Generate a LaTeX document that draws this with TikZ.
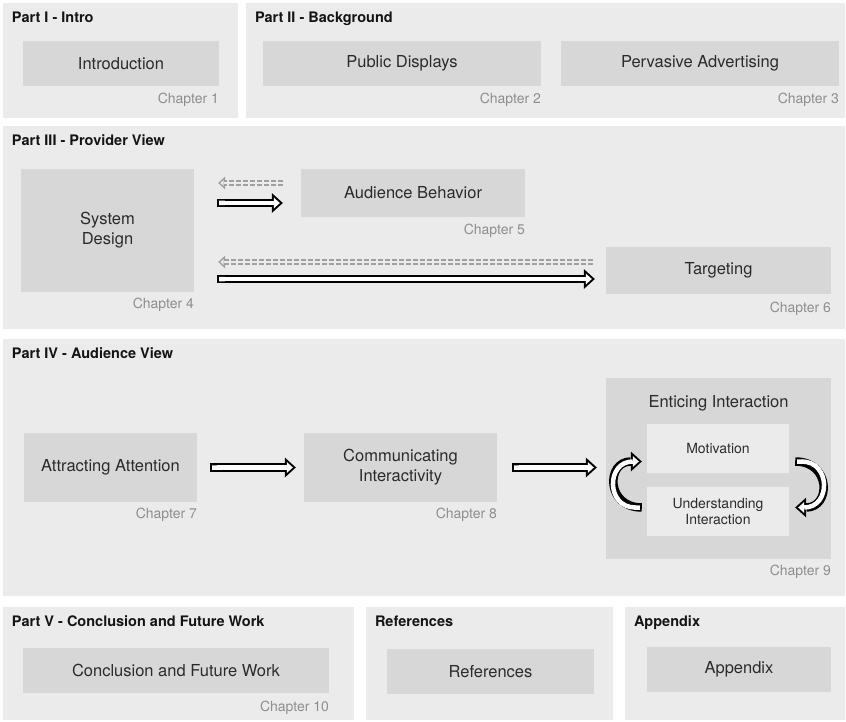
\documentclass[tikz,border=0pt]{standalone}
\usepackage{fontspec}
\setmainfont{TeX Gyre Heros}
\usetikzlibrary{arrows.meta}

\definecolor{panelgray}{HTML}{EBEBEB}
\definecolor{boxgray}{HTML}{D7D7D7}
\definecolor{chapgray}{HTML}{8E8E8E}
\definecolor{labelgray}{HTML}{2B2B2B}
\definecolor{arrgray}{HTML}{A0A0A0}

\begin{document}
\begin{tikzpicture}[x=1pt, y=-1pt,
    panel/.style={fill=panelgray, inner sep=0pt},
    box/.style={fill=boxgray, inner sep=0pt, text=labelgray, align=center, font=\fontsize{16.5}{20}\selectfont},
    subbox/.style={fill=panelgray, inner sep=0pt, text=labelgray, align=center, font=\fontsize{14}{16}\selectfont, minimum width=142pt, minimum height=49pt},
    parttitle/.style={inner sep=0pt, anchor=base west, text=black!92, font=\fontsize{14.5}{17}\selectfont\bfseries},
    chap/.style={inner sep=0pt, anchor=base east, text=chapgray, font=\fontsize{14}{16}\selectfont},
    fwd/.style={draw=white, line width=4.5pt, {Butt Cap[sep=2pt]}-{Triangle[length=6pt, width=10.9pt, line width=0pt, sep=3pt]},
        preaction={draw=black, line width=8.5pt, -{Triangle[length=11pt, width=20pt, line width=0pt]}}},
    back/.style={draw=panelgray, line width=2.6pt, -{Triangle[length=3.3pt, width=6.1pt, line width=0pt, sep=2.2pt]},
        preaction={draw=arrgray, line width=5.6pt, dash pattern=on 5pt off 2pt, -{Triangle[length=7pt, width=13pt, line width=0pt]}}}
]

    \useasboundingbox (0,0) rectangle (846,722);

    \node[panel, minimum width=235pt, minimum height=115pt] (partI) at (120.5,60.5) {};
    \node[panel, minimum width=599pt, minimum height=115pt] (partII) at (545.5,60.5) {};
    \node[panel, minimum width=842pt, minimum height=203pt] (partIII) at (424,227.5) {};
    \node[panel, minimum width=842pt, minimum height=257pt] (partIV) at (424,467.5) {};
    \node[panel, minimum width=351pt, minimum height=113pt] (partV) at (178.5,663.5) {};
    \node[panel, minimum width=247pt, minimum height=113pt] (partref) at (489.5,663.5) {};
    \node[panel, minimum width=220pt, minimum height=113pt] (partapp) at (735,663.5) {};

    \node[parttitle] (titleI) at ([xshift=9pt,yshift=-20pt]partI.north west) {Part I - Intro};
    \node[parttitle] (titleII) at ([xshift=9pt,yshift=-20pt]partII.north west) {Part II - Background};
    \node[parttitle] (titleIII) at ([xshift=9pt,yshift=-20pt]partIII.north west) {Part III - Provider View};
    \node[parttitle] (titleIV) at ([xshift=9pt,yshift=-20pt]partIV.north west) {Part IV - Audience View};
    \node[parttitle] (titleV) at ([xshift=9pt,yshift=-20pt]partV.north west) {Part V - Conclusion and Future Work};
    \node[parttitle] (titleref) at ([xshift=9pt,yshift=-20pt]partref.north west) {References};
    \node[parttitle] (titleapp) at ([xshift=9pt,yshift=-20pt]partapp.north west) {Appendix};

    \node[box, minimum width=196pt, minimum height=45pt] (intro) at (121,63.5) {Introduction};
    \node[box, minimum width=278pt, minimum height=45pt] (pubdisp) at (402,63.5) {Public Displays};
    \node[box, minimum width=278pt, minimum height=45pt] (pervadv) at (700,63.5) {Pervasive Advertising};

    \node[box, minimum width=173pt, minimum height=123pt] (sysdesign) at (107.5,230.5) {System\\Design};
    \node[box, minimum width=224pt, minimum height=48pt] (audbeh) at (413,193) {Audience Behavior};
    \node[box, minimum width=225pt, minimum height=47pt] (target) at (718.5,270.5) {Targeting};

    \node[box, minimum width=173pt, minimum height=69pt] (attract) at (110.5,467.5) {Attracting Attention};
    \node[box, minimum width=193pt, minimum height=69pt] (commint) at (400.5,467.5) {Communicating\\Interactivity};
    \node[box, minimum width=225pt, minimum height=181pt] (entice) at (718.5,468.5) {};
    \node[box, fill=none] (enticetitle) at ([yshift=-25pt]entice.north) {Enticing Interaction};
    \node[subbox] (motiv) at (718,448.5) {Motivation};
    \node[subbox] (underst) at (718,511.5) {Understanding\\Interaction};

    \node[box, minimum width=306pt, minimum height=45pt] (concl) at (176,670.5) {Conclusion and Future Work};
    \node[box, minimum width=207pt, minimum height=45pt] (refs) at (490.5,671.5) {References};
    \node[box, minimum width=184pt, minimum height=45pt] (appx) at (739,669.5) {Appendix};

    \node[chap] (chI) at ([yshift=-17pt]intro.south east) {Chapter 1};
    \node[chap] (chII) at ([yshift=-17pt]pubdisp.south east) {Chapter 2};
    \node[chap] (chIII) at ([yshift=-17pt]pervadv.south east) {Chapter 3};
    \node[chap] (chIV) at ([yshift=-16pt]sysdesign.south east) {Chapter 4};
    \node[chap] (chV) at ([yshift=-17pt]audbeh.south east) {Chapter 5};
    \node[chap] (chVI) at ([yshift=-18pt]target.south east) {Chapter 6};
    \node[chap] (chVII) at ([yshift=-16pt]attract.south east) {Chapter 7};
    \node[chap] (chVIII) at ([yshift=-16pt]commint.south east) {Chapter 8};
    \node[chap] (chIX) at ([yshift=-16pt]entice.south east) {Chapter 9};
    \node[chap] (chX) at ([yshift=-18pt]concl.south east) {Chapter 10};

    \draw[back, shorten <=18pt, shorten >=24pt] ([yshift=10pt]audbeh.west) -- ([yshift=10pt]sysdesign.east |- audbeh.west);
    \draw[fwd, shorten <=23pt, shorten >=18pt] ([yshift=-10pt]sysdesign.east |- audbeh.west) -- ([yshift=-10pt]audbeh.west);
    \draw[back, shorten <=13pt, shorten >=24pt] ([yshift=8.5pt]target.west) -- ([yshift=8.5pt]sysdesign.east |- target.west);
    \draw[fwd, shorten <=23pt, shorten >=11pt] ([yshift=-8.5pt]sysdesign.east |- target.west) -- ([yshift=-8.5pt]target.west);

    \draw[fwd, shorten <=13pt, shorten >=8pt] (attract.east) -- (commint.west);
    \draw[fwd, shorten <=15pt, shorten >=9pt] (commint.east) -- (entice.west |- commint.east);

    \draw[fwd] ([xshift=-5pt,yshift=4pt]underst.west) to[out=180, in=180, looseness=2] ([xshift=-5pt,yshift=-13pt]motiv.west);
    \draw[fwd] ([xshift=6pt,yshift=-13pt]motiv.east) to[out=0, in=0, looseness=2] ([xshift=6pt,yshift=4pt]underst.east);

\end{tikzpicture}
\end{document}
